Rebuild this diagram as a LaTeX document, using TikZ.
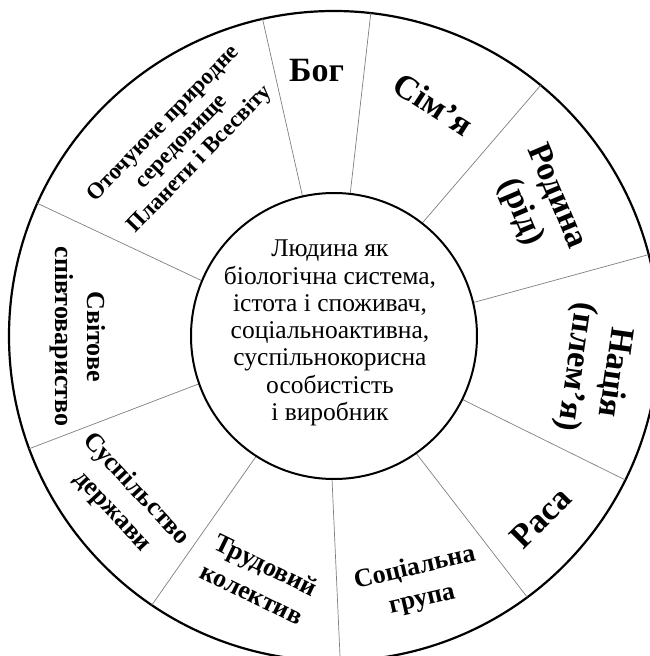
\documentclass[tikz,border=0pt]{standalone}
\usepackage{fontspec}
\setmainfont{Liberation Serif}
\begin{document}
\begin{tikzpicture}[x=1pt,y=1pt,
  ring/.style={line width=2.2pt},
  divider/.style={line width=0.7pt, draw=black!50},
  lbl/.style={font=\bfseries\fontsize{34}{39}\selectfont, align=center, inner sep=0pt},
  lblmid/.style={font=\bfseries\fontsize{26}{32}\selectfont, align=center, inner sep=0pt},
  lblsmall/.style={font=\bfseries\fontsize{23}{25.5}\selectfont, align=center, inner sep=0pt},
  core/.style={font=\fontsize{25.5}{27.3}\selectfont, align=center, inner sep=0pt}]
\useasboundingbox (-334,-320) rectangle (316,336);
\fill[white] (-334,-320) rectangle (316,336);
\coordinate (C) at (0,0);
% outer ring
\draw[ring] (C) circle[radius=325];
% dividers (inner angle, outer angle)
\foreach \a/\b in {102.7/102.7, 83.5/83.5, 52/50.5, 13.5/14.5, -26.3/-26.3, -55/-53.5, -90.8/-88.9, -122.9/-124.1, 199.5/200.3, 157.3/155.9}
  \draw[divider] (\a:143) -- (\b:325);
% inner circle
\node[circle, draw, line width=2pt, minimum size=286pt, inner sep=0pt, fill=white] (inner) at (C) {};
\node[core] (txt) at (-4,3) {Людина як\\біологічна система,\\істота і споживач,\\соціальноактивна,\\суспільнокорисна\\особистість\\і виробник};
% segment labels
\node[lbl, rotate=0] (bog) at (-17.5,265) {Бог};
\node[lbl, rotate=-33] (sim) at (99.5,232) {Сім’я};
\node[lbl, rotate=-67] (rod) at (204,131.5) {Родина\\(рід)};
\node[lbl, rotate=-98] (nac) at (260.5,-33.5) {Нація\\(плем’я)};
\node[lbl, rotate=45] (rasa) at (206.5,-182) {Раса};
\node[lblmid, rotate=13] (soc) at (84.5,-248) {Соціальна\\група};
\node[lblmid, rotate=-26] (trud) at (-75,-243) {Трудовий\\колектив};
\node[lblmid, rotate=-47] (susp) at (-210,-164.5) {Суспільство\\держави};
\node[lblmid, rotate=-90] (svit) at (-256.5,-0.5) {Світове\\співтовариство};
\node[lblsmall, rotate=46] (otoch) at (-152,194) {Оточуюче природне\\середовище\\Планети і Всесвіту};
\end{tikzpicture}
\end{document}
